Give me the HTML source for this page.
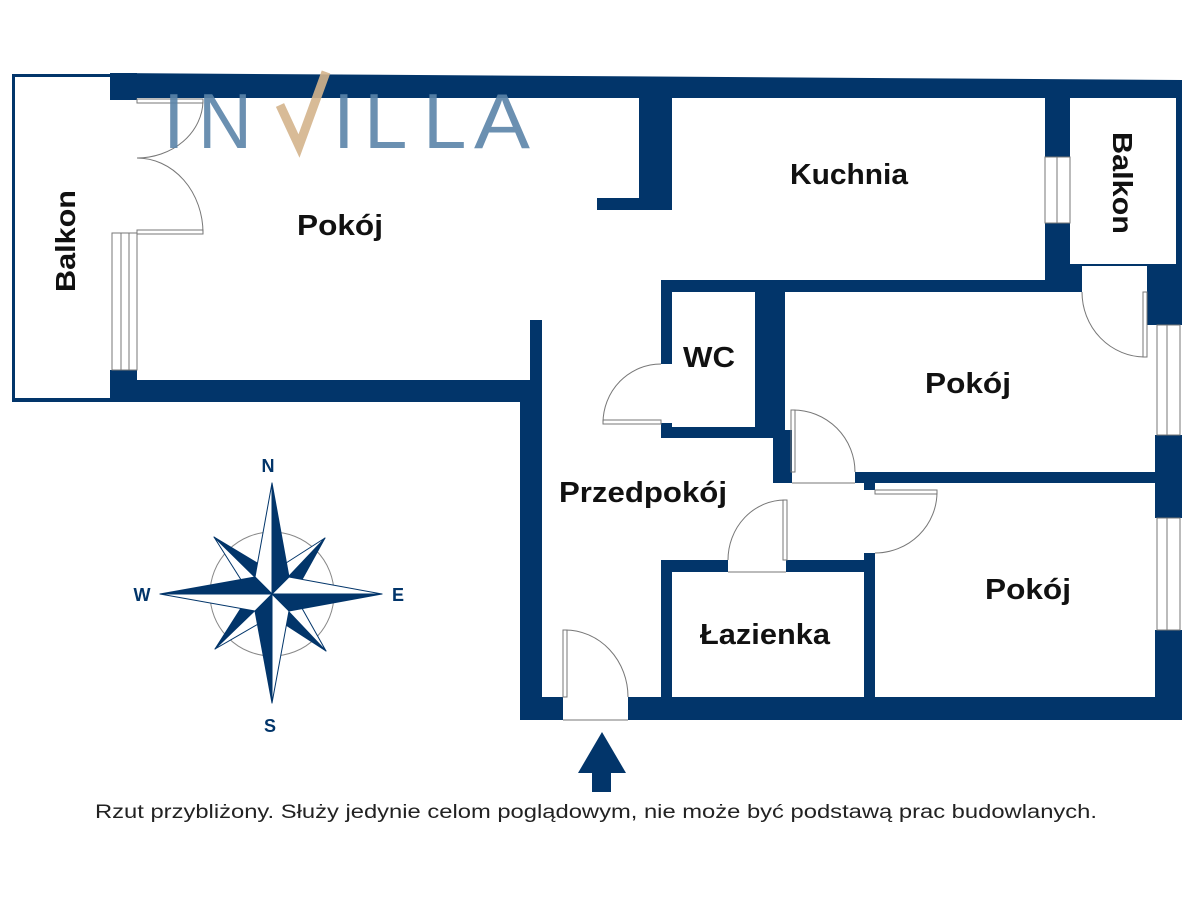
<!DOCTYPE html>
<html><head><meta charset="utf-8"><style>
html,body{margin:0;padding:0;background:#fff;}
svg{display:block;}
.lbl{font-family:"Liberation Sans",sans-serif;font-weight:bold;fill:#111;}
.lg{font-family:"Liberation Sans",sans-serif;fill:#5b84a9;font-size:78px;}
</style></head><body>
<svg width="1200" height="900" viewBox="0 0 1200 900" xmlns="http://www.w3.org/2000/svg">
<g fill="#02356a">
<rect x="12" y="74" width="100" height="3"/>
<rect x="12" y="74" width="3" height="328"/>
<rect x="12" y="398" width="100" height="4"/>
<polygon points="110,73 1182,80 1182,98 110,98"/>
<rect x="110" y="73" width="27" height="27"/>
<rect x="110" y="370" width="27" height="32"/>
<rect x="110" y="380" width="432" height="22"/>
<rect x="530" y="320" width="12" height="62"/>
<rect x="520" y="380" width="22" height="340"/>
<rect x="520" y="697" width="43" height="23"/>
<rect x="628" y="697" width="554" height="23"/>
<rect x="639" y="98" width="33" height="112"/>
<rect x="597" y="198" width="75" height="12"/>
<rect x="1045" y="98" width="25" height="59"/>
<rect x="1045" y="223" width="25" height="69"/>
<rect x="1045" y="265" width="37" height="27"/>
<rect x="1147" y="265" width="35" height="60"/>
<rect x="1176" y="98" width="6" height="170"/>
<rect x="1070" y="264" width="112" height="2"/>
<rect x="661" y="280" width="421" height="12"/>
<rect x="661" y="280" width="11" height="84"/>
<rect x="661" y="423" width="11" height="15"/>
<rect x="661" y="427" width="124" height="11"/>
<rect x="755" y="292" width="30" height="146"/>
<rect x="773" y="430" width="19" height="53"/>
<rect x="1155" y="435" width="27" height="83"/>
<rect x="1155" y="630" width="27" height="90"/>
<rect x="855" y="472" width="327" height="11"/>
<rect x="864" y="483" width="11" height="7"/>
<rect x="661" y="560" width="67" height="12"/>
<rect x="786" y="560" width="89" height="12"/>
<rect x="661" y="560" width="11" height="140"/>
<rect x="864" y="553" width="11" height="147"/>
</g>
<g fill="none" stroke="#777" stroke-width="1">
<rect x="112" y="233" width="25" height="137"/>
<line x1="121" y1="233" x2="121" y2="370"/><line x1="129" y1="233" x2="129" y2="370"/>
<rect x="1045" y="157" width="25" height="66"/>
<line x1="1057" y1="157" x2="1057" y2="223"/>
<rect x="1157" y="325" width="23" height="110"/>
<line x1="1167" y1="325" x2="1167" y2="435"/>
<rect x="1157" y="518" width="23" height="112"/>
<line x1="1167" y1="518" x2="1167" y2="630"/>
<rect x="137" y="99" width="66" height="4"/>
<path d="M203,101 A66,58 0 0 1 137,158"/>
<path d="M137,158 A66,75 0 0 1 203,233"/>
<rect x="137" y="230" width="66" height="4"/>
<rect x="603" y="420" width="58" height="4"/>
<path d="M661,364 A58,59 0 0 0 603,423"/>
<rect x="791" y="410" width="4" height="62"/>
<path d="M793,410 A62,62 0 0 1 855,472"/>
<rect x="875" y="490" width="62" height="4"/>
<path d="M937,492 A62,61 0 0 1 875,553"/>
<rect x="783" y="500" width="4" height="60"/>
<path d="M785,500 A57,60 0 0 0 728,560"/>
<rect x="563" y="630" width="4" height="67"/>
<path d="M565,630 A63,67 0 0 1 628,697"/>
<rect x="1143" y="292" width="4" height="65"/>
<path d="M1082,292 A63,65 0 0 0 1145,357"/>
<line x1="792" y1="483" x2="855" y2="483"/>
<line x1="728" y1="572" x2="786" y2="572"/>
<line x1="563" y1="720" x2="628" y2="720"/>
</g>
<g opacity="0.9">
<text class="lg" x="163" y="148">I</text>
<text class="lg" x="198" y="148" textLength="54" lengthAdjust="spacingAndGlyphs">N</text>
<polyline points="280,105 299,146 326,72" fill="none" stroke="#d4b48c" stroke-width="9"/>
<text class="lg" x="333" y="148">I</text>
<text class="lg" x="364" y="148">L</text>
<text class="lg" x="423" y="148">L</text>
<text class="lg" x="474" y="148" textLength="56" lengthAdjust="spacingAndGlyphs">A</text>
</g>
<text class="lbl" x="297" y="235" font-size="29" textLength="86" lengthAdjust="spacingAndGlyphs">Pokój</text>
<text class="lbl" x="790" y="184" font-size="29" textLength="118" lengthAdjust="spacingAndGlyphs">Kuchnia</text>
<text class="lbl" font-size="28" text-anchor="middle" textLength="102" lengthAdjust="spacingAndGlyphs" transform="translate(75,241) rotate(-90)">Balkon</text>
<text class="lbl" font-size="28" text-anchor="middle" textLength="102" lengthAdjust="spacingAndGlyphs" transform="translate(1113,183) rotate(90)">Balkon</text>
<text class="lbl" x="683" y="367" font-size="29" textLength="52" lengthAdjust="spacingAndGlyphs">WC</text>
<text class="lbl" x="925" y="393" font-size="29" textLength="86" lengthAdjust="spacingAndGlyphs">Pokój</text>
<text class="lbl" x="559" y="502" font-size="29" textLength="168" lengthAdjust="spacingAndGlyphs">Przedpokój</text>
<text class="lbl" x="985" y="599" font-size="29" textLength="86" lengthAdjust="spacingAndGlyphs">Pokój</text>
<text class="lbl" x="700" y="644" font-size="29" textLength="130" lengthAdjust="spacingAndGlyphs">Łazienka</text>
<circle cx="272" cy="594" r="62" fill="none" stroke="#888" stroke-width="1"/>
<g stroke="#02356a" stroke-width="1" stroke-linejoin="round">
<polygon points="272,594 325,538 294,594" fill="#02356a"/><polygon points="272,594 325,538 272,572" fill="#fff"/>
<polygon points="272,594 326,651 272,616" fill="#02356a"/><polygon points="272,594 326,651 294,594" fill="#fff"/>
<polygon points="272,594 215,649 250,594" fill="#02356a"/><polygon points="272,594 215,649 272,616" fill="#fff"/>
<polygon points="272,594 214,537 272,572" fill="#02356a"/><polygon points="272,594 214,537 250,594" fill="#fff"/>
<polygon points="272,594 272,483 255,577" fill="#fff"/><polygon points="272,594 272,483 289,577" fill="#02356a"/>
<polygon points="272,594 382,594 289,577" fill="#fff"/><polygon points="272,594 382,594 289,611" fill="#02356a"/>
<polygon points="272,594 272,703 289,611" fill="#fff"/><polygon points="272,594 272,703 255,611" fill="#02356a"/>
<polygon points="272,594 160,594 255,611" fill="#fff"/><polygon points="272,594 160,594 255,577" fill="#02356a"/>
</g>
<g font-family="Liberation Sans,sans-serif" font-weight="bold" font-size="18" fill="#02356a" text-anchor="middle">
<text x="268" y="472">N</text><text x="270" y="732">S</text>
<text x="142" y="601">W</text><text x="398" y="601">E</text>
</g>
<polygon points="602,732 626,773 611,773 611,792 592,792 592,773 578,773" fill="#02356a"/>
<text x="596" y="818" font-family="Liberation Sans,sans-serif" font-size="19" fill="#222" text-anchor="middle" textLength="1002" lengthAdjust="spacingAndGlyphs">Rzut przybliżony. Służy jedynie celom poglądowym, nie może być podstawą prac budowlanych.</text>
</svg>
</body></html>
